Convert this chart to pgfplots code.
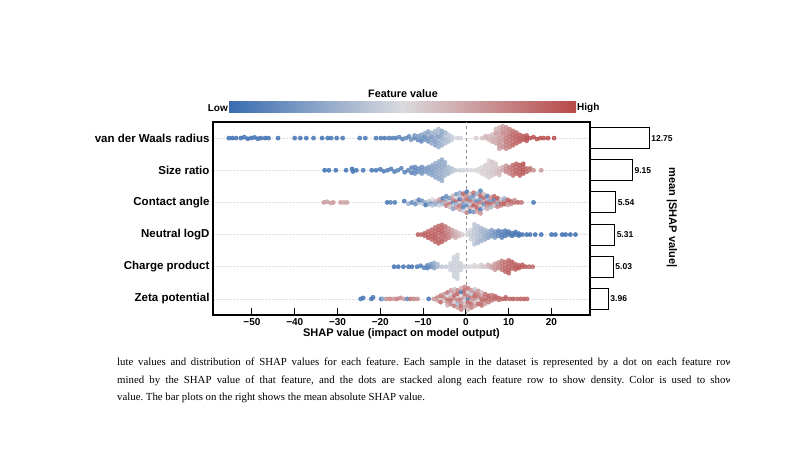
\documentclass[border=0pt]{standalone}
\usepackage{pgfplots}
\pgfplotsset{compat=1.18}
\usepackage{fontspec}
\setmainfont{Liberation Sans}
\newfontfamily\capfont{Liberation Serif}
\definecolor{shapblue}{RGB}{56,108,176}
\definecolor{shapgray}{RGB}{218,218,222}
\definecolor{shapred}{RGB}{184,72,72}
\pgfplotsset{
  beeswarm/.style={scatter, only marks, mark=*, mark size=2.15pt, scatter src=explicit,
    scatter/use mapped color={draw=mapped color, fill=mapped color},
    fill opacity=0.85, draw opacity=0.85},
}
\begin{document}
\begin{tikzpicture}
\useasboundingbox (0,0) rectangle (797pt,452pt);
% colour bar
\shade[left color=shapblue, right color=shapred, middle color=shapgray] (229pt,339pt) rectangle (576pt,350pt);
\node[font=\fontsize{10.8}{12}\selectfont\bfseries] at (403pt,358.5pt) {Feature value};
\node[font=\fontsize{10}{12}\selectfont\bfseries, anchor=east, inner sep=0.5pt] at (228.5pt,344pt) {Low};
\node[font=\fontsize{10}{12}\selectfont\bfseries, anchor=west, inner sep=0.5pt] at (576.5pt,344pt) {High};
\begin{axis}[
  at={(213pt,137pt)}, anchor=south west, scale only axis,
  width=377pt, height=193pt,
  xmin=-59.1, xmax=29.0, ymin=-0.5, ymax=5.5,
  colormap={shap}{rgb255(0cm)=(56,108,176); rgb255(1cm)=(218,218,222); rgb255(2cm)=(184,72,72)},
  point meta min=0, point meta max=1,
  axis line style={line width=1.1pt, black},
  xtick={-50,-40,-30,-20,-10,0,10,20},
  xticklabels={−50,−40,−30,−20,−10,0,10,20},
  xtick pos=bottom, tick align=inside,
  major tick length=7pt,
  xtick style={line width=1.1pt, black},
  ticklabel style={font=\fontsize{10}{12}\selectfont\bfseries},
  ytick={0,1,2,3,4,5},
  yticklabels={Zeta potential, Charge product, Neutral logD, Contact angle, Size ratio, van der Waals radius},
  yticklabel style={font=\fontsize{11.5}{13}\selectfont\bfseries},
  ytick style={draw=none},
  ymajorgrids, grid style={densely dotted, black!12, line width=0.6pt},
  xlabel={SHAP value (impact on model output)},
  xlabel style={at={(axis description cs:0.5,0)}, anchor=center, yshift=-19pt, font=\fontsize{11}{13}\selectfont\bfseries},
]
\draw[black!45, dashed, line width=0.7pt] (axis cs:0,-0.5) -- (axis cs:0,5.5);
% van der Waals radius
\addplot[beeswarm] table[x=x, y=y, meta=c, row sep=\\] {
x y c\\
-55.4 5 0.02\\ -54.6 5 0.02\\ -53.7 5 0.03\\ -52.6 5 0.02\\ -51.8 5.03 0.03\\ -51.0 4.98 0.02\\ -50.2 5 0.03\\ -49.4 5.02 0.02\\ -48.6 4.98 0.04\\ -47.9 5 0.03\\ -46.9 5 0.02\\ -46.1 5 0.04\\ -43.9 5 0.03\\
-40.0 5 0.03\\ -38.7 5 0.04\\ -37.3 5 0.03\\ -35.6 5 0.04\\ -33.6 5 0.03\\ -32.3 5 0.04\\ -31.5 5 0.05\\ -30.2 5 0.04\\ -28.8 5 0.05\\ -24.8 5 0.05\\ -23.5 5 0.06\\
-21.0 5 0.06\\ -19.9 5 0.07\\ -19.0 5 0.06\\ -18.0 5 0.08\\ -17.2 5 0.1\\ -16.4 5 0.08\\ -15.6 5.03 0.12\\ -14.8 4.97 0.1\\ -14.0 5 0.15\\ -13.3 5.05 0.12\\ -12.8 4.95 0.18\\
-12.0 5 0.12\\ -12.0 5.08 0.2\\
-11.2 4.94 0.15\\ -11.2 5.06 0.22\\
-10.4 5 0.18\\ -10.4 5.1 0.25\\ -10.4 4.9 0.12\\
-9.6 4.95 0.2\\ -9.6 5.05 0.15\\ -9.6 5.15 0.28\\
-8.8 5 0.22\\ -8.8 5.1 0.3\\ -8.8 4.9 0.18\\ -8.8 5.2 0.25\\
-8.0 4.95 0.25\\ -8.0 5.05 0.2\\ -8.0 5.16 0.32\\ -8.0 4.84 0.28\\
-7.2 5 0.27\\ -7.2 5.11 0.3\\ -7.2 4.89 0.22\\ -7.2 5.22 0.35\\ -7.2 4.78 0.25\\
-6.4 4.94 0.3\\ -6.4 5.06 0.22\\ -6.4 5.17 0.33\\ -6.4 4.83 0.28\\ -6.4 5.28 0.36\\ -6.4 4.72 0.3\\
-5.6 5 0.3\\ -5.6 5.11 0.25\\ -5.6 4.89 0.35\\ -5.6 5.22 0.28\\ -5.6 4.78 0.32\\
-4.8 4.95 0.35\\ -4.8 5.06 0.4\\ -4.8 5.17 0.33\\ -4.8 4.84 0.38\\
-4.0 5 0.4\\ -4.0 5.1 0.42\\ -4.0 4.9 0.38\\
-3.2 5.04 0.44\\ -3.2 4.95 0.45\\ -2.0 5 0.47\\ -1.2 5 0.48\\
2.4 5 0.55\\ 3.8 5 0.58\\ 4.6 5 0.6\\ 4.6 5.06 0.62\\ 5.4 4.95 0.63\\ 5.4 5.06 0.6\\
6.2 5 0.64\\ 6.2 5.11 0.6\\ 6.2 4.89 0.66\\
7.0 4.95 0.67\\ 7.0 5.06 0.65\\ 7.0 5.17 0.7\\ 7.0 4.84 0.66\\ 7.0 5.28 0.62\\
7.8 5 0.7\\ 7.8 5.11 0.68\\ 7.8 4.89 0.72\\ 7.8 5.22 0.66\\ 7.8 4.78 0.74\\ 7.8 5.33 0.64\\ 7.8 4.67 0.7\\
8.6 4.94 0.74\\ 8.6 5.06 0.72\\ 8.6 5.17 0.78\\ 8.6 4.83 0.7\\ 8.6 5.28 0.73\\ 8.6 4.72 0.76\\ 8.6 5.37 0.7\\
9.4 5 0.8\\ 9.4 5.11 0.78\\ 9.4 4.89 0.82\\ 9.4 5.22 0.76\\ 9.4 4.78 0.8\\ 9.4 5.33 0.75\\ 9.4 4.67 0.78\\
10.2 4.94 0.84\\ 10.2 5.06 0.86\\ 10.2 5.17 0.82\\ 10.2 4.83 0.85\\ 10.2 5.28 0.8\\ 10.2 4.72 0.83\\
11.0 5 0.88\\ 11.0 5.11 0.9\\ 11.0 4.89 0.86\\ 11.0 5.22 0.85\\ 11.0 4.78 0.89\\
11.8 4.95 0.9\\ 11.8 5.06 0.92\\ 11.8 5.17 0.88\\ 11.8 4.84 0.91\\
12.6 5 0.93\\ 12.6 5.1 0.92\\ 12.6 4.9 0.95\\
13.4 4.95 0.95\\ 13.4 5.06 0.94\\ 14.2 5 0.96\\ 14.2 5.08 0.95\\ 14.2 4.92 0.97\\
15.0 5 0.97\\ 15.8 5.03 0.98\\ 16.6 4.97 0.97\\ 17.4 5 0.98\\ 18.2 5 0.98\\ 19.2 5 0.99\\ 20.6 5 0.99\\
};
% Size ratio
\addplot[beeswarm] table[x=x, y=y, meta=c, row sep=\\] {
x y c\\
-33.0 4 0.02\\ -32.0 4 0.03\\ -30.4 4 0.03\\ -28.0 4 0.04\\ -26.6 4.04 0.03\\ -26.4 3.96 0.05\\ -25.6 4 0.04\\ -24.0 4 0.05\\
-22.0 4 0.06\\ -21.0 4 0.06\\ -20.0 4.03 0.07\\ -19.2 3.97 0.07\\ -18.3 4 0.08\\ -17.5 4.04 0.09\\ -16.7 3.96 0.08\\ -15.9 4 0.1\\ -15.1 4.06 0.1\\ -14.3 3.94 0.1\\ -13.5 4 0.12\\
-12.7 4.08 0.12\\ -12.7 3.92 0.1\\
-11.9 4 0.14\\ -11.9 4.1 0.13\\ -11.9 3.9 0.15\\
-11.1 4.05 0.15\\ -11.1 3.95 0.17\\
-10.3 4 0.18\\ -10.3 4.1 0.16\\ -10.3 3.9 0.2\\
-9.5 4.05 0.2\\ -9.5 3.95 0.22\\
-8.7 4 0.22\\ -8.7 4.1 0.2\\ -8.7 3.9 0.24\\
-7.9 4.05 0.25\\ -7.9 3.95 0.23\\ -7.9 4.15 0.27\\ -7.9 3.85 0.24\\
-7.1 4 0.27\\ -7.1 4.11 0.25\\ -7.1 3.89 0.28\\ -7.1 4.22 0.3\\ -7.1 3.78 0.26\\
-6.3 4.05 0.28\\ -6.3 3.95 0.3\\ -6.3 4.16 0.26\\ -6.3 3.84 0.3\\ -6.3 4.27 0.29\\ -6.3 3.73 0.27\\
-5.6 4 0.3\\ -5.6 4.11 0.28\\ -5.6 3.89 0.32\\ -5.6 4.22 0.3\\ -5.6 3.78 0.3\\ -5.6 4.33 0.28\\ -5.6 3.67 0.3\\
-4.9 4.05 0.32\\ -4.9 3.95 0.34\\ -4.9 4.16 0.3\\ -4.9 3.84 0.33\\ -4.9 4.25 0.31\\
-4.1 4 0.35\\ -4.1 4.1 0.36\\ -4.1 3.9 0.34\\
-3.3 4.05 0.38\\ -3.3 3.95 0.4\\ -2.5 4 0.42\\ -1.5 4 0.45\\ -0.6 4 0.46\\ 0.4 4 0.48\\ 1.3 4 0.5\\ 2.2 4 0.5\\
3.0 4.04 0.52\\ 3.0 3.96 0.5\\
3.8 4 0.53\\ 3.8 4.1 0.5\\ 3.8 3.9 0.52\\
4.6 4.05 0.54\\ 4.6 3.95 0.52\\ 4.6 4.16 0.55\\ 4.6 3.84 0.53\\
5.4 4 0.55\\ 5.4 4.11 0.53\\ 5.4 3.89 0.56\\ 5.4 4.22 0.54\\ 5.4 3.78 0.55\\ 5.4 4.3 0.52\\
6.2 4.05 0.56\\ 6.2 3.95 0.57\\ 6.2 4.16 0.55\\ 6.2 3.84 0.56\\ 6.2 4.26 0.58\\
7.0 4 0.58\\ 7.0 4.1 0.57\\ 7.0 3.9 0.6\\ 7.0 4.2 0.56\\
7.8 4.05 0.6\\ 7.8 3.95 0.62\\ 7.8 3.85 0.6\\
8.6 4 0.68\\ 8.6 4.1 0.65\\
9.4 4.05 0.75\\ 9.4 3.95 0.78\\ 9.4 4.14 0.72\\
10.2 4 0.8\\ 10.2 4.1 0.82\\ 10.2 3.9 0.78\\
11.0 4.05 0.86\\ 11.0 3.95 0.84\\ 11.0 4.16 0.88\\ 11.0 3.84 0.85\\
11.8 4 0.9\\ 11.8 4.1 0.88\\ 11.8 3.9 0.92\\ 11.8 4.2 0.9\\
12.6 4.05 0.93\\ 12.6 3.95 0.9\\ 12.6 4.16 0.94\\ 12.6 3.84 0.92\\
13.4 4 0.95\\ 13.4 4.1 0.93\\ 13.4 3.9 0.94\\ 13.4 4.2 0.96\\
14.2 4.05 0.9\\ 14.2 3.95 0.88\\ 15.0 4 0.8\\ 15.0 4.06 0.85\\ 15.8 4 0.75\\ 17.6 4 0.72\\
};
% Contact angle
\addplot[beeswarm] table[x=x, y=y, meta=c, row sep=\\] {
x y c\\
-33.2 3 0.72\\ -32.4 3.02 0.7\\ -31.6 2.98 0.7\\ -31.0 3 0.72\\ -29.3 3 0.7\\ -28.5 3 0.68\\ -27.8 3 0.7\\
-18.4 3 0.05\\ -17.6 3 0.1\\ -16.6 3 0.08\\ -14.4 3.04 0.05\\ -13.4 2.96 0.3\\ -12.6 3 0.12\\
-11.8 3.04 0.4\\ -11.8 2.95 0.15\\ -11.0 3 0.35\\ -11.0 3.08 0.1\\ -10.2 2.96 0.45\\ -10.2 3.05 0.2\\
-9.4 3 0.3\\ -9.4 2.92 0.05\\ -8.6 3.04 0.42\\ -8.6 2.95 0.25\\
-7.8 3 0.15\\ -7.8 3.09 0.5\\ -7.8 2.91 0.38\\ -7.0 3.03 0.65\\ -7.0 2.94 0.3\\
-6.2 3 0.2\\ -6.2 3.09 0.72\\ -6.2 2.91 0.45\\
-5.4 3.04 0.8\\ -5.4 2.95 0.35\\ -5.4 3.13 0.1\\
-4.6 3 0.7\\ -4.6 3.1 0.3\\ -4.6 2.9 0.82\\ -4.6 3.19 0.15\\
-3.8 3.04 0.45\\ -3.8 2.95 0.85\\ -3.8 3.14 0.2\\ -3.8 2.86 0.6\\
-3.0 3 0.1\\ -3.0 3.1 0.78\\ -3.0 2.9 0.4\\ -3.0 3.2 0.65\\ -3.0 2.8 0.25\\
-2.2 3.05 0.9\\ -2.2 2.95 0.3\\ -2.2 3.16 0.5\\ -2.2 2.84 0.75\\ -2.2 3.26 0.2\\
-1.4 3 0.6\\ -1.4 3.11 0.05\\ -1.4 2.89 0.85\\ -1.4 3.22 0.4\\ -1.4 2.78 0.7\\ -1.4 3.3 0.3\\
-0.6 3.05 0.8\\ -0.6 2.94 0.2\\ -0.6 3.16 0.65\\ -0.6 2.83 0.1\\ -0.6 3.27 0.9\\ -0.6 2.73 0.45\\
0.2 3 0.35\\ 0.2 3.11 0.85\\ 0.2 2.89 0.15\\ 0.2 3.22 0.75\\ 0.2 2.78 0.5\\ 0.2 3.33 0.05\\ 0.2 2.68 0.8\\
1.0 3.05 0.9\\ 1.0 2.94 0.4\\ 1.0 3.16 0.2\\ 1.0 2.83 0.7\\ 1.0 3.27 0.6\\ 1.0 2.72 0.1\\
1.8 3 0.75\\ 1.8 3.11 0.3\\ 1.8 2.89 0.95\\ 1.8 3.22 0.15\\ 1.8 2.78 0.55\\ 1.8 3.3 0.85\\ 1.8 2.7 0.2\\
2.6 3.05 0.1\\ 2.6 2.94 0.8\\ 2.6 3.16 0.5\\ 2.6 2.83 0.9\\ 2.6 3.27 0.3\\ 2.6 2.72 0.7\\
3.4 3 0.85\\ 3.4 3.11 0.2\\ 3.4 2.89 0.6\\ 3.4 3.22 0.9\\ 3.4 2.78 0.05\\ 3.4 3.36 0.1\\ 3.4 2.66 0.75\\
4.2 3.05 0.7\\ 4.2 2.94 0.15\\ 4.2 3.16 0.9\\ 4.2 2.83 0.4\\ 4.2 3.26 0.6\\
5.0 3 0.95\\ 5.0 3.11 0.3\\ 5.0 2.89 0.8\\ 5.0 3.2 0.1\\ 5.0 2.8 0.65\\
5.8 3.05 0.2\\ 5.8 2.94 0.9\\ 5.8 3.15 0.75\\ 5.8 2.85 0.35\\
6.6 3 0.85\\ 6.6 3.1 0.1\\ 6.6 2.9 0.6\\ 6.6 3.19 0.9\\
7.4 3.04 0.7\\ 7.4 2.95 0.25\\ 7.4 3.13 0.95\\ 7.4 2.87 0.8\\
8.2 3 0.9\\ 8.2 3.09 0.4\\ 8.2 2.91 0.85\\
9.0 3.04 0.8\\ 9.0 2.95 0.95\\ 9.0 3.12 0.3\\
9.8 3 0.85\\ 9.8 3.08 0.9\\ 9.8 2.92 0.7\\
10.6 3.03 0.95\\ 10.6 2.96 0.8\\ 11.4 3 0.88\\ 11.4 3.07 0.75\\ 12.2 3 0.9\\ 13.0 3 0.85\\ 15.8 3 0.05\\
};
% Neutral logD
\addplot[beeswarm] table[x=x, y=y, meta=c, row sep=\\] {
x y c\\
-11.2 2 0.92\\ -10.4 2 0.9\\ -9.6 2.04 0.93\\ -9.6 1.96 0.9\\
-8.8 2 0.9\\ -8.8 2.1 0.88\\ -8.8 1.9 0.92\\
-8.0 2.05 0.9\\ -8.0 1.95 0.93\\ -8.0 2.15 0.86\\ -8.0 1.85 0.9\\
-7.2 2 0.92\\ -7.2 2.11 0.88\\ -7.2 1.89 0.95\\ -7.2 2.22 0.87\\ -7.2 1.78 0.9\\
-6.4 2.05 0.9\\ -6.4 1.95 0.86\\ -6.4 2.16 0.93\\ -6.4 1.84 0.9\\ -6.4 2.27 0.88\\ -6.4 1.73 0.92\\
-5.6 2 0.88\\ -5.6 2.11 0.92\\ -5.6 1.89 0.86\\ -5.6 2.22 0.9\\ -5.6 1.78 0.93\\ -5.6 2.3 0.87\\
-4.8 2.05 0.85\\ -4.8 1.95 0.88\\ -4.8 2.16 0.82\\ -4.8 1.84 0.86\\ -4.8 2.25 0.84\\
-4.0 2 0.8\\ -4.0 2.1 0.78\\ -4.0 1.9 0.82\\ -4.0 2.19 0.76\\
-3.2 2.05 0.74\\ -3.2 1.95 0.72\\ -3.2 2.14 0.7\\
-2.4 2 0.66\\ -2.4 2.09 0.64\\ -2.4 1.91 0.68\\
-1.6 2.04 0.6\\ -1.6 1.96 0.62\\ -0.8 2 0.56\\
0.4 2 0.5\\ 0.4 2.08 0.48\\
1.2 2.04 0.46\\ 1.2 1.96 0.44\\ 1.2 2.14 0.47\\ 1.2 1.86 0.45\\
2.0 2 0.43\\ 2.0 2.11 0.42\\ 2.0 1.89 0.44\\ 2.0 2.22 0.41\\ 2.0 1.78 0.43\\ 2.0 2.32 0.42\\ 2.0 1.7 0.4\\
2.8 2.05 0.4\\ 2.8 1.95 0.38\\ 2.8 2.16 0.39\\ 2.8 1.84 0.37\\ 2.8 2.26 0.4\\ 2.8 1.74 0.36\\
3.6 2 0.36\\ 3.6 2.11 0.34\\ 3.6 1.89 0.37\\ 3.6 2.2 0.35\\ 3.6 1.8 0.33\\
4.4 2.05 0.32\\ 4.4 1.95 0.3\\ 4.4 2.15 0.33\\ 4.4 1.85 0.31\\
5.2 2 0.28\\ 5.2 2.1 0.3\\ 5.2 1.9 0.26\\
6.0 2.05 0.24\\ 6.0 1.95 0.22\\ 6.0 2.14 0.25\\
6.8 2 0.2\\ 6.8 2.09 0.18\\ 6.8 1.91 0.22\\
7.6 2.04 0.16\\ 7.6 1.96 0.15\\ 7.6 2.12 0.14\\
8.4 2 0.12\\ 8.4 2.09 0.13\\ 8.4 1.91 0.1\\
9.2 2.04 0.1\\ 9.2 1.96 0.08\\ 9.2 2.12 0.11\\
10.0 2 0.08\\ 10.0 2.09 0.07\\ 10.8 2.04 0.06\\ 10.8 1.96 0.05\\ 11.6 2 0.06\\ 11.6 2.08 0.05\\ 12.4 2.03 0.05\\ 12.4 1.97 0.04\\
13.2 2 0.05\\ 14.2 2 0.04\\ 15.0 2 0.04\\ 16.2 2 0.03\\ 17.6 2 0.03\\ 20.0 2 0.02\\ 20.9 2 0.03\\ 22.5 2 0.02\\ 23.3 2 0.02\\ 24.4 2 0.02\\ 25.6 2 0.02\\
};
% Charge product
\addplot[beeswarm] table[x=x, y=y, meta=c, row sep=\\] {
x y c\\
-16.8 1 0.03\\ -15.8 1 0.03\\ -14.6 1 0.04\\ -13.4 1 0.04\\ -12.6 1 0.05\\ -11.4 1 0.06\\ -10.6 1.03 0.08\\ -9.8 0.97 0.1\\
-9.0 1.04 0.12\\ -9.0 0.96 0.1\\ -8.2 1 0.15\\ -8.2 1.08 0.2\\
-7.4 1.04 0.22\\ -7.4 0.96 0.25\\ -7.4 1.12 0.3\\ -6.6 1 0.35\\ -6.6 1.08 0.38\\
-5.6 1 0.42\\ -4.6 1 0.44\\
-3.6 1 0.45\\ -3.6 1.1 0.45\\ -3.6 0.9 0.45\\
-2.8 1 0.46\\ -2.8 1.1 0.46\\ -2.8 0.9 0.46\\ -2.8 1.2 0.46\\ -2.8 0.8 0.46\\ -2.8 1.3 0.46\\ -2.8 0.7 0.46\\
-2.0 1.05 0.46\\ -2.0 0.95 0.46\\ -2.0 1.16 0.46\\ -2.0 0.84 0.46\\ -2.0 1.27 0.46\\ -2.0 0.73 0.46\\ -2.0 1.37 0.46\\ -2.0 0.63 0.46\\
-1.2 1 0.46\\ -1.2 1.1 0.46\\ -1.2 0.9 0.46\\
-0.4 1 0.47\\ 0.4 1 0.48\\ 1.2 1 0.5\\ 2.0 1 0.52\\ 2.0 1.05 0.5\\ 2.8 1 0.53\\ 3.6 1 0.55\\ 3.6 1.06 0.54\\ 4.4 1 0.58\\
5.2 1 0.6\\ 5.2 1.06 0.62\\ 6.0 1.03 0.66\\ 6.0 0.97 0.68\\
6.8 1 0.7\\ 6.8 1.09 0.72\\ 6.8 0.91 0.74\\
7.6 1.04 0.75\\ 7.6 0.96 0.78\\ 7.6 1.13 0.76\\
8.4 1 0.8\\ 8.4 1.09 0.82\\ 8.4 0.91 0.84\\ 8.4 1.18 0.8\\
9.2 1.05 0.85\\ 9.2 0.95 0.88\\ 9.2 1.15 0.86\\ 9.2 0.85 0.9\\
10.0 1 0.9\\ 10.0 1.11 0.88\\ 10.0 0.89 0.92\\ 10.0 1.2 0.87\\ 10.0 0.8 0.9\\
10.8 1.05 0.92\\ 10.8 0.95 0.9\\ 10.8 1.15 0.93\\
11.6 1 0.94\\ 11.6 1.08 0.9\\ 11.6 0.92 0.93\\
12.4 1.04 0.92\\ 12.4 0.96 0.95\\ 13.2 1 0.93\\ 13.2 1.06 0.9\\ 14.0 1 0.92\\ 14.8 1 0.9\\ 15.6 1 0.88\\
};
% Zeta potential
\addplot[beeswarm] table[x=x, y=y, meta=c, row sep=\\] {
x y c\\
-24.6 0 0.04\\ -24.0 0.03 0.05\\ -22.1 0 0.04\\ -21.7 0.05 0.05\\ -19.8 0 0.06\\ -19.3 0 0.3\\ -18.5 0 0.75\\ -17.7 0 0.8\\ -16.9 0 0.72\\ -16.1 0 0.82\\
-15.3 0.03 0.78\\ -14.5 0 0.7\\ -13.7 0 0.12\\ -12.9 0 0.85\\ -12.1 0 0.78\\ -11.3 0 0.75\\ -8.7 0 0.05\\ -7.5 0 0.72\\
-6.7 0.04 0.8\\ -6.7 -0.04 0.7\\
-5.9 0 0.55\\ -5.9 0.1 0.85\\ -5.9 -0.1 0.9\\
-5.1 0.05 0.82\\ -5.1 -0.05 0.6\\ -5.1 0.15 0.72\\
-4.3 0 0.9\\ -4.3 0.1 0.5\\ -4.3 -0.1 0.78\\ -4.3 0.2 0.85\\ -4.3 -0.2 0.65\\
-3.5 0.05 0.7\\ -3.5 -0.05 0.88\\ -3.5 0.16 0.45\\ -3.5 -0.16 0.8\\ -3.5 0.26 0.75\\
-2.7 0 0.8\\ -2.7 0.11 0.9\\ -2.7 -0.11 0.55\\ -2.7 0.22 0.72\\ -2.7 -0.22 0.85\\ -2.7 0.3 0.6\\
-1.9 0.05 0.6\\ -1.9 -0.05 0.82\\ -1.9 0.16 0.9\\ -1.9 -0.16 0.35\\ -1.9 0.27 0.78\\ -1.9 -0.27 0.7\\
-1.1 0 0.85\\ -1.1 0.11 0.5\\ -1.1 -0.11 0.75\\ -1.1 0.22 0.05\\ -1.1 -0.22 0.9\\ -1.1 0.33 0.65\\ -1.1 -0.33 0.8\\
-0.3 0.05 0.72\\ -0.3 -0.05 0.45\\ -0.3 0.16 0.85\\ -0.3 -0.16 0.6\\ -0.3 0.27 0.9\\ -0.3 -0.27 0.7\\ -0.3 0.37 0.78\\
0.5 0 0.1\\ 0.5 0.11 0.8\\ 0.5 -0.11 0.9\\ 0.5 0.22 0.55\\ 0.5 -0.22 0.75\\ 0.5 0.33 0.85\\ 0.5 -0.33 0.6\\
1.3 0.05 0.85\\ 1.3 -0.05 0.7\\ 1.3 0.16 0.4\\ 1.3 -0.16 0.88\\ 1.3 0.27 0.75\\ 1.3 -0.27 0.8\\
2.1 0 0.78\\ 2.1 0.11 0.9\\ 2.1 -0.11 0.6\\ 2.1 0.22 0.82\\ 2.1 -0.22 0.7\\ 2.1 0.3 0.45\\
2.9 0.05 0.85\\ 2.9 -0.05 0.55\\ 2.9 0.16 0.8\\ 2.9 -0.16 0.9\\ 2.9 0.25 0.72\\
3.7 0 0.9\\ 3.7 0.1 0.75\\ 3.7 -0.1 0.85\\ 3.7 0.2 0.6\\ 3.7 -0.2 0.88\\
4.5 0.05 0.8\\ 4.5 -0.05 0.9\\ 4.5 0.15 0.85\\ 4.5 -0.15 0.7\\
5.3 0 0.88\\ 5.3 0.1 0.92\\ 5.3 -0.1 0.82\\
6.1 0.04 0.9\\ 6.1 -0.04 0.85\\ 6.1 0.12 0.8\\
6.9 0 0.88\\ 6.9 0.08 0.92\\ 7.7 0.03 0.9\\ 7.7 -0.03 0.85\\ 8.5 0 0.92\\ 9.3 0 0.88\\ 9.3 0.05 0.9\\
10.3 0 0.9\\ 11.1 0 0.92\\ 12.0 0 0.88\\ 12.8 0 0.9\\ 13.6 0 0.92\\ 14.3 0 0.9\\
};
\end{axis}
% mean |SHAP| bars
\begin{axis}[
  at={(590pt,137pt)}, anchor=south west, scale only axis,
  width=90pt, height=193pt,
  xmin=0, xmax=19.35, ymin=-0.5, ymax=5.5,
  hide axis, clip=false,
  xbar, bar width=21pt,
  point meta=explicit symbolic,
  nodes near coords,
  nodes near coords style={font=\fontsize{8.5}{10}\selectfont\bfseries, anchor=west, inner sep=1.5pt},
]
\addplot[draw=black, fill=white, line width=1.1pt] coordinates {
(3.96,0) [3.96] (5.03,1) [5.03] (5.31,2) [5.31] (5.54,3) [5.54] (9.15,4) [9.15] (12.75,5) [12.75]};
\end{axis}
\node[rotate=-90, font=\fontsize{11}{13}\selectfont\bfseries] at (672pt,234.5pt) {mean |SHAP value|};
% caption
\begin{scope}
\clip (117pt,40pt) rectangle (729pt,100pt);
\node[anchor=base west, inner sep=0pt, font=\capfont\fontsize{10.8}{12}\selectfont\frenchspacing] at (117pt,86pt) {\makebox[616pt][s]{lute values and distribution of SHAP values for each feature. Each sample in the dataset is represented by a dot on each feature row}};
\node[anchor=base west, inner sep=0pt, font=\capfont\fontsize{10.8}{12}\selectfont\frenchspacing] at (117pt,68pt) {\makebox[616pt][s]{mined by the SHAP value of that feature, and the dots are stacked along each feature row to show density. Color is used to show}};
\node[anchor=base west, inner sep=0pt, font=\capfont\fontsize{10.8}{12}\selectfont\frenchspacing] at (117pt,51pt) {value. The bar plots on the right shows the mean absolute SHAP value.};
\end{scope}
\end{tikzpicture}
\end{document}
